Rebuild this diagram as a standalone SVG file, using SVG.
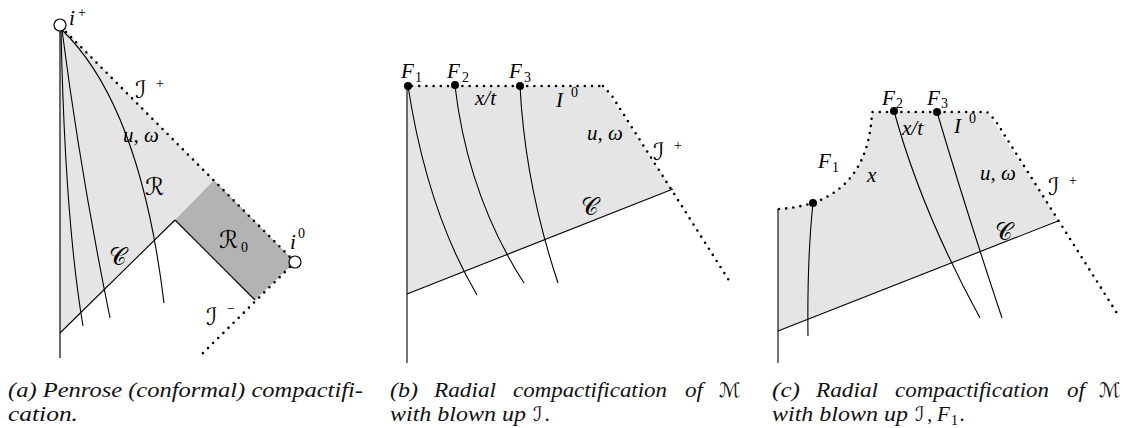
<svg xmlns="http://www.w3.org/2000/svg" width="1123" height="428" viewBox="0 0 1123 428">
<style>
.bg{fill:#ffffff}
.light{fill:#e5e5e5;stroke:none}
.dark{fill:#b3b3b3;stroke:none}
.ln{fill:none;stroke:#000;stroke-width:1.1}
.axis{fill:none;stroke:#444;stroke-width:1.6}
.dot{fill:none;stroke:#000;stroke-width:2.6;stroke-linecap:round;stroke-dasharray:0 7.2}
.pt{fill:#000}
.oc{fill:#fff;stroke:#000;stroke-width:1.2}
.m{font-family:"Liberation Serif","DejaVu Serif",serif;font-style:italic;font-size:21px;fill:#000}
.s{font-family:"Liberation Serif","DejaVu Serif",serif;font-style:normal;font-size:14px;fill:#000}
.sc{font-family:"DejaVu Sans","DejaVu Serif",sans-serif;font-style:normal;font-size:24px;fill:#000}
.cap{font-family:"Liberation Serif","DejaVu Serif",serif;font-style:italic;font-size:21px;fill:#111}
.capsc{font-family:"DejaVu Sans","DejaVu Serif",sans-serif;font-style:normal;font-size:20px;fill:#111}
</style>
<rect class="bg" x="0" y="0" width="1123" height="428"/>

<!-- Panel (a) -->
<g id="panel-a">
  <g id="a-region-R">
    <polygon class="light" points="61,26 214,180 175,220 60,333"/>
  </g>
  <g id="a-region-R0">
    <polygon class="dark" points="214,180 295,262 255,300 175,220"/>
  </g>
  <g id="a-connectors">
    <line class="axis" x1="60" y1="30" x2="60" y2="358"/>
    <line class="ln" x1="60" y1="333" x2="175" y2="220"/>
    <line class="ln" x1="175" y1="220" x2="255" y2="300"/>
    <path class="ln" d="M61,30 Q65,220 83,326"/>
    <path class="ln" d="M62,30 Q80,170 110,318"/>
    <path class="ln" d="M62,30 Q140,105 164,303"/>
    <line class="dot" x1="66" y1="32" x2="292" y2="259"/>
    <line class="dot" x1="295" y1="262" x2="200" y2="356"/>
  </g>
  <g id="a-i-plus">
    <circle class="oc" cx="60" cy="25" r="6"/>
    <text class="m" x="69" y="25">i</text><text class="s" x="78" y="17" font-size="15">+</text>
  </g>
  <g id="a-i-zero">
    <circle class="oc" cx="295" cy="262" r="6"/>
    <text class="m" x="290" y="249">i</text><text class="s" x="298" y="238">0</text>
  </g>
  <g id="a-labels">
    <text class="sc" x="135" y="98">ℐ</text><text class="s" x="156" y="88" font-size="15">+</text>
    <text class="m" x="123" y="142">u, ω</text>
    <text class="sc" x="145" y="195">ℛ</text>
    <text class="sc" x="109" y="265">𝒞</text>
    <text class="sc" x="219" y="248">ℛ</text><text class="s" x="241" y="252">0</text>
    <text class="sc" x="206" y="325">ℐ</text><text class="s" x="227" y="313" font-size="15">−</text>
  </g>
  <g id="a-caption">
    <text class="cap" x="8" y="397" textLength="355" lengthAdjust="spacingAndGlyphs">(a) Penrose (conformal) compactifi-</text>
    <text class="cap" x="8" y="421" textLength="70" lengthAdjust="spacingAndGlyphs">cation.</text>
  </g>
</g>

<!-- Panel (b) -->
<g id="panel-b">
  <g id="b-region">
    <polygon class="light" points="407,86 603,86 672,189 407,294"/>
  </g>
  <g id="b-connectors">
    <line class="ln" x1="407" y1="86" x2="407" y2="363"/>
    <line class="ln" x1="407" y1="294" x2="673" y2="189"/>
    <path class="ln" d="M408,86 Q427,210 477,295"/>
    <path class="ln" d="M455,86 Q468,196 524,283"/>
    <path class="ln" d="M520,86 Q525,184 558,283"/>
    <line class="dot" x1="412" y1="86" x2="603" y2="86"/>
    <path class="dot" d="M603,86 L612,96 L730,282"/>
  </g>
  <g id="b-F1"><circle class="pt" cx="408" cy="86" r="4"/><text class="m" x="401" y="78">F</text><text class="s" x="415" y="82">1</text></g>
  <g id="b-F2"><circle class="pt" cx="455" cy="85" r="4"/><text class="m" x="447" y="78">F</text><text class="s" x="462" y="82">2</text></g>
  <g id="b-F3"><circle class="pt" cx="520" cy="86" r="4"/><text class="m" x="509" y="78">F</text><text class="s" x="524" y="82">3</text></g>
  <g id="b-labels">
    <text class="m" x="475" y="105">x/t</text>
    <text class="m" x="556" y="107">I</text><text class="s" x="571" y="97">0</text>
    <text class="m" x="587" y="140">u, ω</text>
    <text class="sc" x="653" y="160">ℐ</text><text class="s" x="674" y="150" font-size="15">+</text>
    <text class="sc" x="581" y="215">𝒞</text>
  </g>
  <g id="b-caption">
    <text class="cap" x="390" y="397" textLength="28" lengthAdjust="spacingAndGlyphs">(b)</text>
    <text class="cap" x="434" y="397" textLength="62" lengthAdjust="spacingAndGlyphs">Radial</text>
    <text class="cap" x="513" y="397" textLength="154" lengthAdjust="spacingAndGlyphs">compactification</text>
    <text class="cap" x="685" y="397" textLength="18" lengthAdjust="spacingAndGlyphs">of</text>
    <text class="capsc" x="719" y="397">ℳ</text>
    <text class="cap" x="390" y="421" textLength="136" lengthAdjust="spacingAndGlyphs">with blown up</text>
    <text class="capsc" x="533" y="421">ℐ</text><text class="cap" x="545" y="421">.</text>
  </g>
</g>

<!-- Panel (c) -->
<g id="panel-c">
  <g id="c-region">
    <path class="light" d="M778,209 Q796,208 813,203 C850,190 870,160 872,112 L987,112 L1058,220 L778,331 Z"/>
  </g>
  <g id="c-connectors">
    <line class="ln" x1="778" y1="209" x2="778" y2="363"/>
    <line class="ln" x1="778" y1="331" x2="1058" y2="221"/>
    <path class="ln" d="M813,203 Q807,260 808,336"/>
    <path class="ln" d="M894,111 Q921,210 980,318"/>
    <path class="ln" d="M937,112 Q966,210 1002,318"/>
    <path class="dot" d="M779,209 Q796,208 813,203 C850,190 870,160 872,112 L987,112 L995,120 L1120,318"/>
  </g>
  <g id="c-F1"><circle class="pt" cx="813" cy="203" r="4"/><text class="m" x="818" y="168">F</text><text class="s" x="832" y="172">1</text></g>
  <g id="c-F2"><circle class="pt" cx="894" cy="111" r="4"/><text class="m" x="882" y="105">F</text><text class="s" x="896" y="108">2</text></g>
  <g id="c-F3"><circle class="pt" cx="937" cy="112" r="4"/><text class="m" x="927" y="105">F</text><text class="s" x="941" y="108">3</text></g>
  <g id="c-labels">
    <text class="m" x="902" y="135">x/t</text>
    <text class="m" x="954" y="133">I</text><text class="s" x="969" y="123">0</text>
    <text class="m" x="867" y="182">x</text>
    <text class="m" x="980" y="180">u, ω</text>
    <text class="sc" x="1048" y="195">ℐ</text><text class="s" x="1069" y="185" font-size="15">+</text>
    <text class="sc" x="995" y="240">𝒞</text>
  </g>
  <g id="c-caption">
    <text class="cap" x="772" y="397" textLength="28" lengthAdjust="spacingAndGlyphs">(c)</text>
    <text class="cap" x="816" y="397" textLength="62" lengthAdjust="spacingAndGlyphs">Radial</text>
    <text class="cap" x="895" y="397" textLength="154" lengthAdjust="spacingAndGlyphs">compactification</text>
    <text class="cap" x="1067" y="397" textLength="18" lengthAdjust="spacingAndGlyphs">of</text>
    <text class="capsc" x="1099" y="397">ℳ</text>
    <text class="cap" x="772" y="421" textLength="136" lengthAdjust="spacingAndGlyphs">with blown up</text>
    <text class="capsc" x="915" y="421">ℐ</text><text class="cap" x="927" y="421">,</text>
    <text class="cap" x="937" y="421">F</text><text class="s" x="951" y="425" font-size="15">1</text><text class="cap" x="960" y="421">.</text>
  </g>
</g>
</svg>
